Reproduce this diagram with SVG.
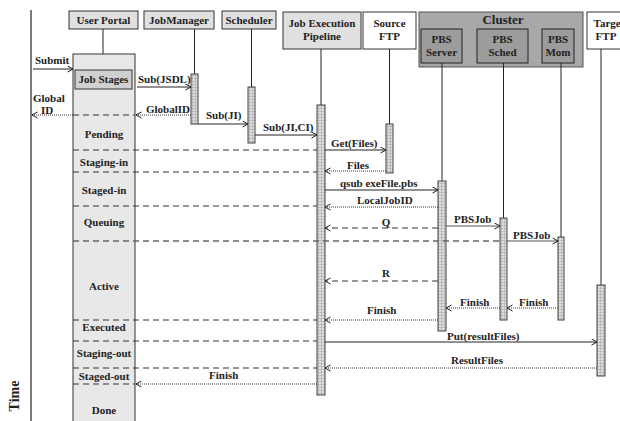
<svg xmlns="http://www.w3.org/2000/svg" width="620" height="421" viewBox="0 0 620 421">
<style>
text{font-family:"Liberation Serif","Times New Roman",serif;font-weight:bold;font-size:11px;fill:#222}
.c{text-anchor:middle}
.hdr{fill:#e0e0e0;stroke:#333;stroke-width:1}
.wht{fill:#fff;stroke:#333;stroke-width:1}
.pbs{fill:#9c9c9c;stroke:#222;stroke-width:1}
.life{stroke:#222;stroke-width:1;fill:none}
.act{fill:url(#grid);stroke:#444;stroke-width:1}
.sol{stroke:#222;stroke-width:1;fill:none;marker-end:url(#arr)}
.dot{stroke:#333;stroke-width:1;fill:none;stroke-dasharray:1 1;marker-end:url(#arr)}
.dsh{stroke:#333;stroke-width:1.2;fill:none;stroke-dasharray:6 4}
.dsha{stroke:#333;stroke-width:1.2;fill:none;stroke-dasharray:6 4;marker-end:url(#arr)}
.gd{stroke:#666;stroke-width:1.3;fill:none;stroke-dasharray:6 4}
</style>
<defs>
<pattern id="grid" width="3" height="3" patternUnits="userSpaceOnUse">
<rect width="3" height="3" fill="#dedede"/>
<path d="M0,0.5H3M0.5,0V3" stroke="#aaa" stroke-width="0.6"/>
</pattern>
<marker id="arr" markerWidth="8" markerHeight="8" refX="6" refY="3.5" orient="auto" markerUnits="userSpaceOnUse">
<path d="M0.5,0.5L6,3.5L0.5,6.5" fill="none" stroke="#222" stroke-width="1"/>
</marker>
</defs>

<line x1="31" y1="10" x2="31" y2="421" stroke="#222" stroke-width="1.2"/>
<text transform="translate(19,396) rotate(-90)" class="c" style="font-size:14px">Time</text>

<g id="user-portal">
<rect class="hdr" x="69" y="11" width="69" height="18"/>
<text class="c" x="103.5" y="24">User Portal</text>
<line class="life" x1="103" y1="29" x2="103" y2="54"/>
<rect x="73" y="54" width="62" height="370" fill="#e8e8e8" stroke="#333" stroke-width="1"/>
<rect x="75" y="70" width="57" height="19" fill="#d0d0d0" stroke="#333" stroke-width="1"/>
<text class="c" x="103.5" y="83">Job Stages</text>
<text class="c" x="104" y="138">Pending</text>
<text class="c" x="104" y="166">Staging-in</text>
<text class="c" x="104" y="194">Staged-in</text>
<text class="c" x="104" y="226">Queuing</text>
<text class="c" x="104" y="290">Active</text>
<text class="c" x="104" y="331">Executed</text>
<text class="c" x="104" y="357">Staging-out</text>
<text class="c" x="104" y="380">Staged-out</text>
<text class="c" x="104" y="414">Done</text>
</g>

<g id="job-manager">
<rect class="hdr" x="144" y="11" width="70" height="18"/>
<text class="c" x="179" y="24">JobManager</text>
<line class="life" x1="194.5" y1="29" x2="194.5" y2="74"/>
<rect class="act" x="191" y="74" width="7" height="50"/>
</g>

<g id="scheduler">
<rect class="hdr" x="222" y="11" width="54" height="18"/>
<text class="c" x="249" y="24">Scheduler</text>
<line class="life" x1="251.5" y1="29" x2="251.5" y2="87"/>
<rect class="act" x="248" y="87" width="7" height="56"/>
</g>

<g id="job-execution-pipeline">
<rect class="hdr" x="283" y="12" width="78" height="37"/>
<text class="c" x="322" y="27">Job Execution</text>
<text class="c" x="322" y="40">Pipeline</text>
<line class="life" x1="321" y1="49" x2="321" y2="105"/>
<rect class="act" x="317" y="105" width="8" height="290"/>
</g>

<g id="source-ftp">
<rect class="wht" x="363" y="12" width="53" height="37"/>
<text class="c" x="389.5" y="27">Source</text>
<text class="c" x="389.5" y="40">FTP</text>
<line class="life" x1="389.5" y1="49" x2="389.5" y2="124"/>
<rect class="act" x="386" y="124" width="7" height="49"/>
</g>

<g id="cluster">
<rect x="419" y="12" width="164" height="55" fill="#a8a8a8" stroke="#555" stroke-width="1"/>
<text class="c" x="503" y="24" style="font-size:13px">Cluster</text>
</g>

<g id="pbs-server">
<rect class="pbs" x="421" y="29" width="41" height="34"/>
<text class="c" x="441.5" y="43">PBS</text>
<text class="c" x="441.5" y="56">Server</text>
<line class="life" x1="442" y1="63" x2="442" y2="181"/>
<rect class="act" x="438" y="181" width="8" height="150"/>
</g>

<g id="pbs-sched">
<rect class="pbs" x="477" y="29" width="51" height="34"/>
<text class="c" x="502.5" y="43">PBS</text>
<text class="c" x="502.5" y="56">Sched</text>
<line class="life" x1="503.5" y1="63" x2="503.5" y2="218"/>
<rect class="act" x="500" y="218" width="7" height="102"/>
</g>

<g id="pbs-mom">
<rect class="pbs" x="542" y="29" width="32" height="34"/>
<text class="c" x="558" y="43">PBS</text>
<text class="c" x="558" y="56">Mom</text>
<line class="life" x1="561" y1="63" x2="561" y2="237"/>
<rect class="act" x="558" y="237" width="6" height="83"/>
</g>

<g id="target-ftp">
<rect class="wht" x="587" y="12" width="50" height="37"/>
<text class="c" x="609" y="27">Target</text>
<text class="c" x="606" y="40">FTP</text>
<line class="life" x1="601" y1="49" x2="601" y2="285"/>
<rect class="act" x="597" y="285" width="8" height="91"/>
</g>

<g id="connectors">
<line class="sol" x1="33" y1="69" x2="73" y2="69"/>
<text x="35" y="64">Submit</text>

<line class="sol" x1="137" y1="87" x2="191" y2="87"/>
<text x="138" y="83">Sub(JSDL)</text>

<line class="dot" x1="191" y1="115" x2="136" y2="115"/>
<text x="146" y="113">GlobalID</text>
<line class="dsh" x1="73" y1="115" x2="135" y2="115"/>
<line class="dot" x1="73" y1="115" x2="32" y2="115"/>
<text x="33" y="102">Global</text>
<text class="c" x="47" y="114">ID</text>

<line class="sol" x1="198" y1="124" x2="248" y2="124"/>
<text x="206" y="119">Sub(JI)</text>

<line class="sol" x1="255" y1="135" x2="317" y2="135"/>
<text x="263" y="131">Sub(JI,CI)</text>

<line class="dsh" x1="73" y1="150" x2="317" y2="150"/>
<line class="sol" x1="325" y1="150" x2="386" y2="150"/>
<text x="331" y="147">Get(Files)</text>

<line class="dsh" x1="73" y1="172" x2="317" y2="172"/>
<line class="dot" x1="386" y1="171" x2="325" y2="171"/>
<text x="347" y="169">Files</text>

<line class="sol" x1="325" y1="190" x2="438" y2="190"/>
<text x="340" y="187">qsub exeFile.pbs</text>

<line class="dsh" x1="73" y1="206" x2="317" y2="206"/>
<line class="dot" x1="438" y1="207" x2="325" y2="207"/>
<text x="357" y="204">LocalJobID</text>

<line class="dsha" x1="438" y1="228" x2="325" y2="228"/>
<text class="c" x="386" y="226">Q</text>

<line class="sol" x1="446" y1="226" x2="500" y2="226" style="stroke:#555"/>
<text x="454" y="223">PBSJob</text>

<line class="gd" x1="73" y1="241" x2="500" y2="241"/>
<line class="sol" x1="507" y1="241" x2="558" y2="241" style="stroke:#555"/>
<text x="513" y="239">PBSJob</text>

<line class="dsha" x1="438" y1="281" x2="325" y2="281"/>
<text class="c" x="386" y="277">R</text>

<line class="dot" x1="500" y1="308" x2="446" y2="308"/>
<text x="460" y="306">Finish</text>
<line class="dot" x1="558" y1="308" x2="507" y2="308"/>
<text x="519" y="306">Finish</text>

<line class="dsh" x1="73" y1="320" x2="317" y2="320"/>
<line class="dot" x1="438" y1="320" x2="325" y2="320"/>
<text x="367" y="314">Finish</text>

<line class="dsh" x1="73" y1="341" x2="317" y2="341"/>
<line class="sol" x1="325" y1="342" x2="597" y2="342"/>
<text x="447" y="340">Put(resultFiles)</text>

<line class="dsh" x1="73" y1="368" x2="317" y2="368"/>
<line class="dot" x1="597" y1="368" x2="325" y2="368"/>
<text x="451" y="364">ResultFiles</text>

<line class="dsh" x1="73" y1="384" x2="135" y2="384"/>
<line class="dot" x1="317" y1="384" x2="136" y2="384"/>
<text x="209" y="379">Finish</text>
</g>
</svg>
